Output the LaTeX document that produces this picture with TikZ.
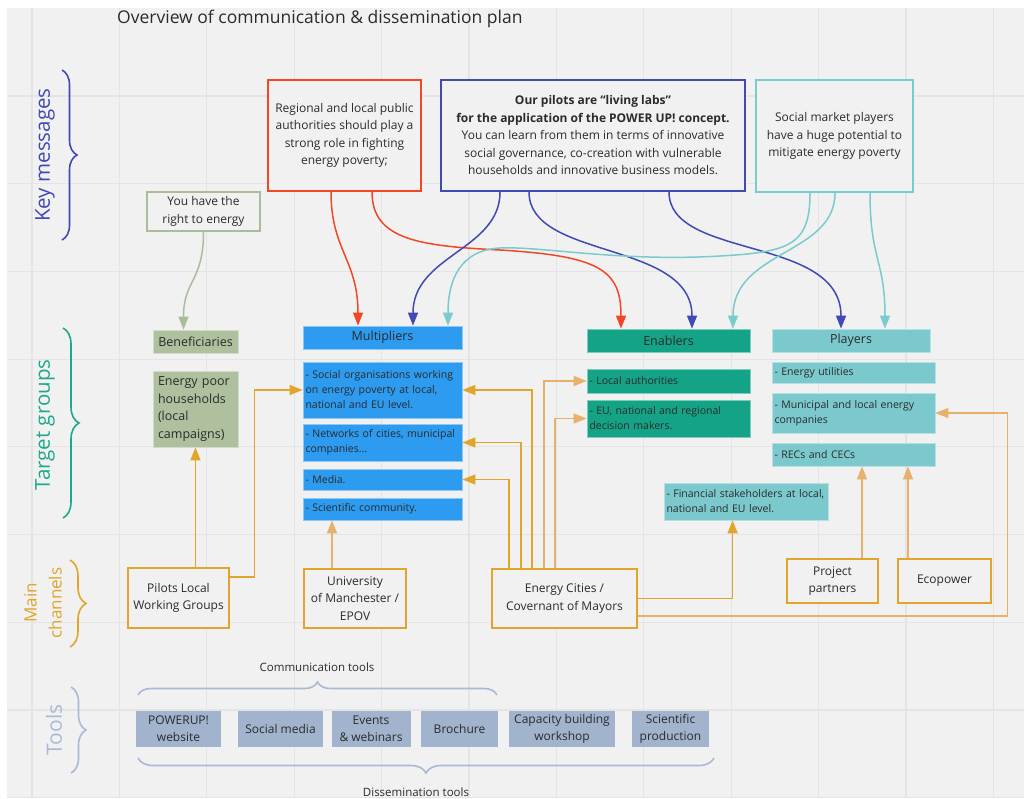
\documentclass[tikz,border=0pt]{standalone}
\usepackage{fontspec}
\setmainfont{Open Sans}
\usetikzlibrary{arrows.meta,decorations.pathreplacing,calc}
\definecolor{bg}{HTML}{F1F1F1}
\definecolor{gridc}{HTML}{E4E4E4}
\definecolor{redc}{HTML}{F24726}
\definecolor{indigo}{HTML}{4149B3}
\definecolor{tealL}{HTML}{7ACBCE}
\definecolor{sage}{HTML}{AFC09E}
\definecolor{sageline}{HTML}{A9BD9A}
\definecolor{multi}{HTML}{2D9BF0}
\definecolor{enab}{HTML}{14A386}
\definecolor{play}{HTML}{7BC9CD}
\definecolor{tgtext}{HTML}{1EA88B}
\definecolor{orA}{HTML}{E0A52A}
\definecolor{orB}{HTML}{E7B06C}
\definecolor{toolc}{HTML}{A1B3CD}
\definecolor{tooltext}{HTML}{A8BAD5}
\definecolor{txt}{HTML}{2B2B2B}
\newcommand\fsz[2]{\fontsize{#1}{#2}\selectfont}
\begin{document}
\begin{tikzpicture}[x=1pt,y=-1pt,
  msg/.style={draw=#1, line width=2pt, fill=bg, text=txt, align=center, inner sep=0pt, font=\fsz{12}{17.5}},
  fbox/.style={fill=#1, draw=white!45!#1, line width=0.8pt, text=txt, inner sep=0pt},
  hdr/.style={fbox=#1, align=center, font=\fsz{12.5}{16}},
  item/.style={fbox=#1, align=left, inner xsep=2.5pt, font=\fsz{10.5}{15}},
  chan/.style={draw=orA, line width=2pt, fill=bg, text=txt, align=center, font=\fsz{12}{17.5}, inner sep=0pt},
  tool/.style={fill=toolc, text=txt, align=center, font=\fsz{12}{17}, inner sep=0pt, minimum height=36pt},
  conn/.style={line width=1.5pt, -{Triangle[length=13pt,width=10pt]}, draw=#1},
  brc/.style 2 args={draw=#1, line width=1.6pt, decorate, decoration={brace, amplitude=#2}},
  sidelabel/.style={rotate=90, text=#1, align=center},
]
\useasboundingbox (0,0) rectangle (1024,798);
\fill[white] (0,0) rectangle (1024,798);
\fill[bg] (7,8) rectangle (1024,798);
\foreach \i in {0,...,11} \draw[gridc, line width=1.2pt] ({32+87.4*\i},8) -- ({32+87.4*\i},798);
\foreach \j in {0,...,8} \draw[gridc, line width=1.2pt] (7,{96+87.7*\j}) -- (1024,{96+87.7*\j});

% title
\node[anchor=west, text=txt, font=\fsz{17.5}{20}, inner sep=0pt] (title) at (117,19) {Overview of communication \& dissemination plan};

% side labels and braces
\node[sidelabel=indigo, font=\fsz{20.5}{24}] (lkey) at (45,155) {Key messages};
\draw[brc={indigo}{15pt}] (62,70) -- (62,240);
\node[sidelabel=tgtext, font=\fsz{20.5}{24}] (ltg) at (45,425) {Target groups};
\draw[brc={tgtext}{16pt}] (63,328) -- (63,518);
\node[sidelabel=orA, font=\fsz{17}{25}] (lch) at (43,603) {Main\\channels};
\draw[brc={orA}{16pt}] (70,560) -- (70,647);
\node[sidelabel=tooltext, font=\fsz{21}{24}] (ltools) at (54,730) {Tools};
\draw[brc={tooltext}{15pt}] (71,687) -- (71,773);

% key messages
\node[msg=redc, minimum width=153pt, minimum height=111pt] (red) at (344.5,135.5)
  {Regional and local public\\authorities should play a\\strong role in fighting\\energy poverty;};
\node[msg=indigo, minimum width=304pt, minimum height=111pt] (blue) at (593,135.5)
  {\textbf{Our pilots are “living labs”}\\\textbf{for the application of the POWER UP! concept.}\\You can learn from them in terms of innovative\\social governance, co-creation with vulnerable\\households and innovative business models.};
\node[msg=tealL, minimum width=157pt, minimum height=112pt] (teal) at (834.5,136)
  {Social market players\\have a huge potential to\\mitigate energy poverty};
\node[msg=sageline, minimum width=113pt, minimum height=39pt] (green) at (203.5,211.5)
  {You have the\\right to energy};

% target groups
\node[hdr=sage, minimum width=85pt, minimum height=23pt] (benef) at (195.5,341.5) {Beneficiaries};
\node[fbox=sage, align=left, font=\fsz{12.5}{17.5}, inner xsep=5pt, text width=75pt, minimum height=76pt] (epoor) at (195.5,409)
  {Energy poor\\households\\(local\\campaigns)};

\node[hdr=multi, minimum width=159pt, minimum height=23pt] (multi) at (382.5,337.5) {Multipliers};
\node[item=multi, text width=154pt, minimum height=56pt] (social) at (382.5,390)
  {- Social organisations working\\on energy poverty at local,\\national and EU level.};
\node[item=multi, text width=154pt, minimum height=37pt] (netw) at (382.5,442.5)
  {- Networks of cities, municipal\\companies...};
\node[item=multi, text width=154pt, minimum height=21pt] (media) at (382.5,479.5) {- Media.};
\node[item=multi, text width=154pt, minimum height=22pt] (scient) at (382.5,509) {- Scientific community.};

\node[hdr=enab, minimum width=163pt, minimum height=23pt] (enab) at (668.5,340.5) {Enablers};
\node[item=enab, text width=158pt, minimum height=24pt] (local) at (668.5,381) {- Local authorities};
\node[item=enab, text width=158pt, minimum height=37pt] (eu) at (668.5,418.5)
  {- EU, national and regional\\decision makers.};

\node[hdr=play, minimum width=158pt, minimum height=23pt] (play) at (851,340.5) {Players};
\node[item=play, text width=158pt, minimum height=21pt] (util) at (853.5,372.5) {- Energy utilities};
\node[item=play, text width=158pt, minimum height=40pt] (muni) at (853.5,413)
  {- Municipal and local energy\\companies};
\node[item=play, text width=158pt, minimum height=23pt] (recs) at (853.5,454.5) {- RECs and CECs};
\node[item=play, text width=159pt, minimum height=37pt] (fin) at (746,501.5)
  {- Financial stakeholders at local,\\national and EU level.};

% main channels
\node[chan, minimum width=101pt, minimum height=60pt] (pilots) at (178.5,598) {Pilots Local\\Working Groups};
\node[chan, minimum width=102pt, minimum height=59pt] (univ) at (355,598.5) {University\\of Manchester /\\EPOV};
\node[chan, minimum width=145pt, minimum height=59pt] (ec) at (564.5,598.5) {Energy Cities /\\Covernant of Mayors};
\node[chan, minimum width=91pt, minimum height=44pt] (pp) at (832.5,581) {Project\\partners};
\node[chan, minimum width=93pt, minimum height=44pt] (eco) at (944.5,581) {Ecopower};

% tools
\node[tool, minimum width=85pt] (web) at (178.5,729) {POWERUP!\\website};
\node[tool, minimum width=85pt] (smedia) at (280.5,729) {Social media};
\node[tool, minimum width=79pt] (events) at (371,729) {Events\\\& webinars};
\node[tool, minimum width=77pt] (broch) at (459.5,729) {Brochure};
\node[tool, minimum width=106pt] (capac) at (562,729) {Capacity building\\workshop};
\node[tool, minimum width=77pt] (sprod) at (670.5,729) {Scientific\\production};
\draw[brc={tooltext}{13pt}] (138,695) -- (497,695);
\node[text=txt, font=\fsz{11.5}{14}] (commt) at (317,667) {Communication tools};
\draw[brc={tooltext}{15pt}] (714,758) -- (138,758);
\node[text=txt, font=\fsz{11.5}{14}] (dist) at (416,792) {Dissemination tools};

% key message connectors
\coordinate (g1e) at ($(benef.north)+(-12,0)$);
\draw[conn=sageline] (green.south) .. controls ($(green.south)+(0,50)$) and ($(g1e)+(0,-50)$) .. (g1e);

\coordinate (r1s) at ($(red.south)+(-13.5,0)$);
\coordinate (r1e) at ($(multi.north)+(-24.5,0)$);
\draw[conn=redc] (r1s) .. controls (331,250) and (358,260) .. (r1e);
\coordinate (r2s) at ($(red.south)+(27.5,0)$);
\coordinate (r2e) at ($(enab.north)+(-47.5,0)$);
\coordinate (r2m) at (500,250);
\draw[conn=redc] (r2s) .. controls (372,240) and (420,246) .. (r2m) .. controls (600,256) and (621,270) .. (r2e);

\coordinate (b1s) at ($(blue.south)+(-93,0)$);
\coordinate (b1e) at ($(multi.north)+(30.5,0)$);
\draw[conn=indigo] (b1s) .. controls (500,250) and (413,255) .. (b1e);
\coordinate (b2s) at ($(blue.south)+(-64,0)$);
\coordinate (b2e) at ($(enab.north)+(23.5,0)$);
\draw[conn=indigo] (b2s) .. controls (529,260) and (692,240) .. (b2e);
\coordinate (b3s) at ($(blue.south)+(76,0)$);
\coordinate (b3e) at ($(play.north)+(-10,0)$);
\draw[conn=indigo] (b3s) .. controls (669,260) and (841,235) .. (b3e);

\coordinate (t1s) at ($(teal.south)+(-24.5,0)$);
\coordinate (t1e) at ($(multi.north)+(65.5,0)$);
\coordinate (t1m) at (720,256);
\coordinate (t1n) at (500,248);
\draw[conn=tealL] (t1s) .. controls (810,245) and (790,252) .. (t1m) .. controls (620,262) and (540,246) .. (t1n) .. controls (460,250) and (448,280) .. (t1e);
\coordinate (t2s) at ($(teal.south)+(0.5,0)$);
\coordinate (t2e) at ($(enab.north)+(64.5,0)$);
\draw[conn=tealL] (t2s) .. controls (835,255) and (733,250) .. (t2e);
\coordinate (t3s) at ($(teal.south)+(35.5,0)$);
\coordinate (t3e) at ($(play.north)+(34,0)$);
\draw[conn=tealL] (t3s) .. controls (870,260) and (885,260) .. (t3e);

% channel connectors
\draw[conn=orA] (epoor.south |- pilots.north) -- (epoor.south);
\draw[conn=orA] ($(pilots.north east)+(0,10)$) -| ($(social.west)+(-48,0)$) -- (social.west);
\coordinate (u1) at ($(univ.north west)+(29,0)$);
\draw[conn=orB] (u1) -- (u1 |- scient.south);
\draw[conn=orA] ($(ec.north west)+(18,0)$) |- (media.east);
\draw[conn=orA] ($(ec.north west)+(30,0)$) |- (netw.east);
\draw[conn=orA] ($(ec.north west)+(41,0)$) |- (social.east);
\draw[conn=orB] ($(ec.north west)+(53,0)$) |- (local.west);
\draw[conn=orB] ($(ec.north west)+(64,0)$) |- (eu.west);
\coordinate (f1) at ($(fin.south west)+(69,0)$);
\draw[conn=orA] (ec.east) -| (f1);
\coordinate (mr) at ($(muni.east)+(72,0)$);
\draw[conn=orB] ($(ec.south east)+(0,-13)$) -| (mr) -- (muni.east);
\coordinate (p1) at ($(pp.north east)+(-17,0)$);
\draw[conn=orB] (p1) -- (p1 |- recs.south);
\coordinate (e1) at ($(eco.north west)+(11,0)$);
\draw[conn=orB] (e1) -- (e1 |- recs.south);
\end{tikzpicture}
\end{document}
